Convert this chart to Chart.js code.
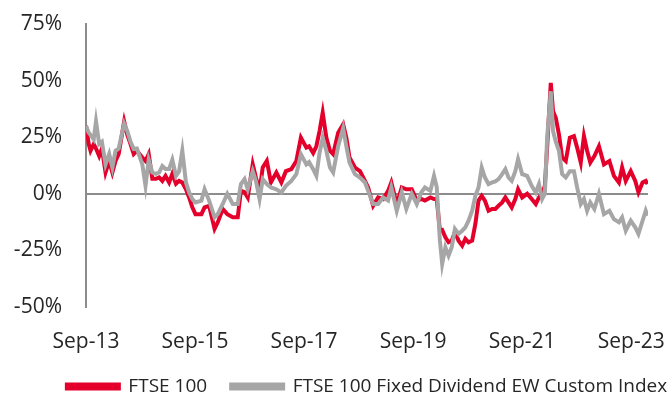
<!DOCTYPE html>
<html lang="en">
<head>
    <meta charset="UTF-8">
    <title>FTSE 100 vs Fixed Dividend EW</title>
    <script src="https://cdn.jsdelivr.net/npm/chart.js"></script>
    <style>
        body { margin: 0; background: #fff; }
        .wrap { width: 669px; height: 400px; position: relative; }
    </style>
</head>
<body>
<div class="wrap"><canvas id="chart"></canvas></div>
<script>
    // months since Sep-13
    const months = [
        0,0.6,1.0,1.7,2.2,2.9,3.5,4.3,5.1,5.8,
        6.5,7.2,8.4,9.1,9.8,10.5,11.2,12.4,13.1,13.8,
        14.6,15.4,16.1,16.8,17.5,18.3,19.0,19.8,20.5,21.2,
        22.0,22.7,23.4,24.1,25.4,26.1,27.1,28.3,29.0,30.1,
        31.1,32.3,33.4,34.1,34.9,35.6,36.7,37.4,38.2,38.9,
        39.8,40.7,41.9,43.0,44.0,45.2,46.3,47.3,48.5,49.1,
        50.0,50.7,51.4,52.1,52.9,53.7,54.4,55.5,56.6,57.3,
        58.0,59.2,60.3,61.4,62.1,63.2,64.3,65.4,66.5,67.2,
        68.4,69.5,70.5,71.7,72.8,73.8,74.6,75.8,76.6,77.2,
        77.9,78.4,79.1,79.8,80.5,81.2,82.0,82.8,83.5,84.2,
        85.0,85.7,86.4,87.1,87.8,88.6,89.4,90.1,90.8,91.6,
        92.3,93.0,93.7,94.5,95.1,96.0,97.1,98.1,99.0,99.7,
        100.4,101.0,101.5,102.3,102.8,103.4,104.1,104.8,105.6,106.5,
        107.4,108.1,108.9,109.6,110.3,111.0,111.9,112.9,114.0,115.2,
        116.2,117.3,118.0,118.8,119.9,120.9,121.6,122.5,123.2,123.6
    ];

    const ftse100 = [
        30,22,19,22,20,16.7,20,9.4,14.5,9.4,
        14.5,17.6,32,26,21.9,17.6,19,16,14.5,17.6,
        6.6,6.6,7.2,5.7,7.9,5,8.8,4.4,5.7,5,
        2,-1.6,-6,-9,-9,-6,-5.3,-15.5,-12.6,-6.7,
        -9,-10.4,-10.4,1.3,0.7,-1.6,13,7.2,1.3,11.6,
        14.5,5,9.4,5,10,10.9,14.5,24.8,20.4,21,
        18,21,27.7,35.8,24.8,19,17.5,27,30.7,24.8,
        16,11.6,10,5.7,2.8,-5.3,-1.6,-2.3,1.3,5,
        -4.5,2.8,2,2,-3,-2.3,-3,-1.6,-2.3,-2.3,
        -16.3,-16,-19.2,-21.4,-20.7,-17,-20.7,-22.9,-19.9,-21.4,
        -20.7,-13.3,-3,-0.9,-3,-7.5,-6.7,-6.7,-5.3,-3.8,
        -1.6,-3.8,-6,-2.3,2,-1.6,0,-2.3,-4.5,-1.6,
        0,3.5,20.4,49,36.5,33.6,26.3,16,14.5,24.8,
        25.5,20.4,13.8,25.5,19,13.8,16.7,21,13,14.5,
        7.9,5,11.6,5.7,10,5.7,0.6,5,5.7,4.3
    ];

    const fixedDivEW = [
        30,27,26,24,32,22,23,13,17.6,11.6,
        19,20,31,27.7,23,19.8,20,13,3.5,15,
        9.4,8.8,9.4,12.3,11,11,15,7.9,10,19,
        5,0.6,-2.3,-3.8,-3,2,-3,-10.4,-9,-4.5,
        0,-4.5,-4.5,4.3,6.5,2,10,5.7,-2.3,6.5,
        4.3,2.8,2,0.6,3.5,5.7,8.7,17.5,13,14,
        10.9,8,18,24.8,19,11.6,9.4,21,29,21,
        13.8,8.7,7.2,5,1.3,-4.5,-4.5,-1.6,-3,2.8,
        -7.5,0.6,-6.7,0,-4.5,0.6,2.8,1.3,7.9,3,
        -20.7,-31,-23.6,-27.3,-23.6,-15.5,-17.7,-16.3,-14.8,-11.9,
        -7.5,-0.9,2.8,11.6,7.2,4.3,5,5.5,6.5,8.7,
        10.9,7.2,5.7,10,15.3,8.7,7.9,3.5,0.6,4.3,
        -2.3,0,24.8,45.3,27.7,23,19,8.7,7.2,10,
        10,2.8,-4.5,-2.3,-7.5,-3.8,-6.7,0,-9,-7.5,
        -11.2,-12.6,-10.4,-16.3,-11.9,-14.8,-17.7,-11.9,-7.5,-9.7
    ];

    const tickMonths = [0, 24, 48, 72, 96, 120];
    const tickLabels = ['Sep-13', 'Sep-15', 'Sep-17', 'Sep-19', 'Sep-21', 'Sep-23'];
    const seriesNames = ['FTSE 100', 'FTSE 100 Fixed Dividend EW Custom Index'];

    const RED = '#e4002b';
    const GREY = '#a6a6a6';
    const TEXT = '#262626';
    const AXIS = '#8c8c8c';

    const toPoints = arr => months.map((m, i) => ({ x: m, y: arr[i] }));

    // legend sits under the plot area, not the canvas centre
    const legendShift = {
        id: 'legendShift',
        afterLayout(chart) {
            const lg = chart.legend, ca = chart.chartArea;
            const dx = (ca.left + ca.right) / 2 - (lg.left + lg.right) / 2;
            lg.left += dx;
            lg.right += dx;
            lg.top -= 2;
            lg.bottom -= 2;
        }
    };

    new Chart(document.getElementById('chart'), {
        type: 'line',
        data: {
            datasets: [
                { label: seriesNames[0], data: toPoints(ftse100), borderColor: RED, backgroundColor: RED, order: 2 },
                { label: seriesNames[1], data: toPoints(fixedDivEW), borderColor: GREY, backgroundColor: GREY, order: 1 }
            ]
        },
        options: {
            responsive: true,
            maintainAspectRatio: false,
            animation: false,
            layout: { padding: { top: 24, right: 0, left: 0, bottom: -8 } },
            elements: {
                line: { borderWidth: 4, tension: 0 },
                point: { radius: 0 }
            },
            scales: {
                x: {
                    type: 'linear',
                    min: 0,
                    max: 123.7,
                    afterBuildTicks: s => { s.ticks = tickMonths.map(v => ({ value: v })); },
                    afterFit: s => { s.paddingLeft = 0; s.paddingRight = 21; s.height = 48; },
                    grid: { display: false, drawTicks: false },
                    border: { display: false },
                    ticks: {
                        autoSkip: false,
                        maxRotation: 0,
                        padding: 22,
                        color: TEXT,
                        font: { family: 'Open Sans', size: 21 },
                        callback: (v) => tickLabels[tickMonths.indexOf(v)]
                    }
                },
                y: {
                    min: -50,
                    max: 75,
                    afterFit: s => { s.width = 86; s.paddingTop = 0; s.paddingBottom = 0; },
                    grid: {
                        drawTicks: false,
                        lineWidth: 2,
                        color: c => c.tick && c.tick.value === 0 ? AXIS : 'transparent'
                    },
                    border: { display: true, color: AXIS, width: 2 },
                    ticks: {
                        stepSize: 25,
                        padding: 24,
                        color: TEXT,
                        font: { family: 'Open Sans', size: 21 },
                        callback: v => v + '%'
                    }
                }
            },
            plugins: {
                legend: {
                    position: 'bottom',
                    labels: {
                        boxWidth: 52,
                        boxHeight: 4,
                        padding: 24,
                        color: TEXT,
                        font: { family: 'Open Sans', size: 19 },
                        sort: (a, b) => a.datasetIndex - b.datasetIndex
                    }
                },
                tooltip: { enabled: false }
            }
        },
        plugins: [legendShift]
    });
</script>
</body>
</html>
